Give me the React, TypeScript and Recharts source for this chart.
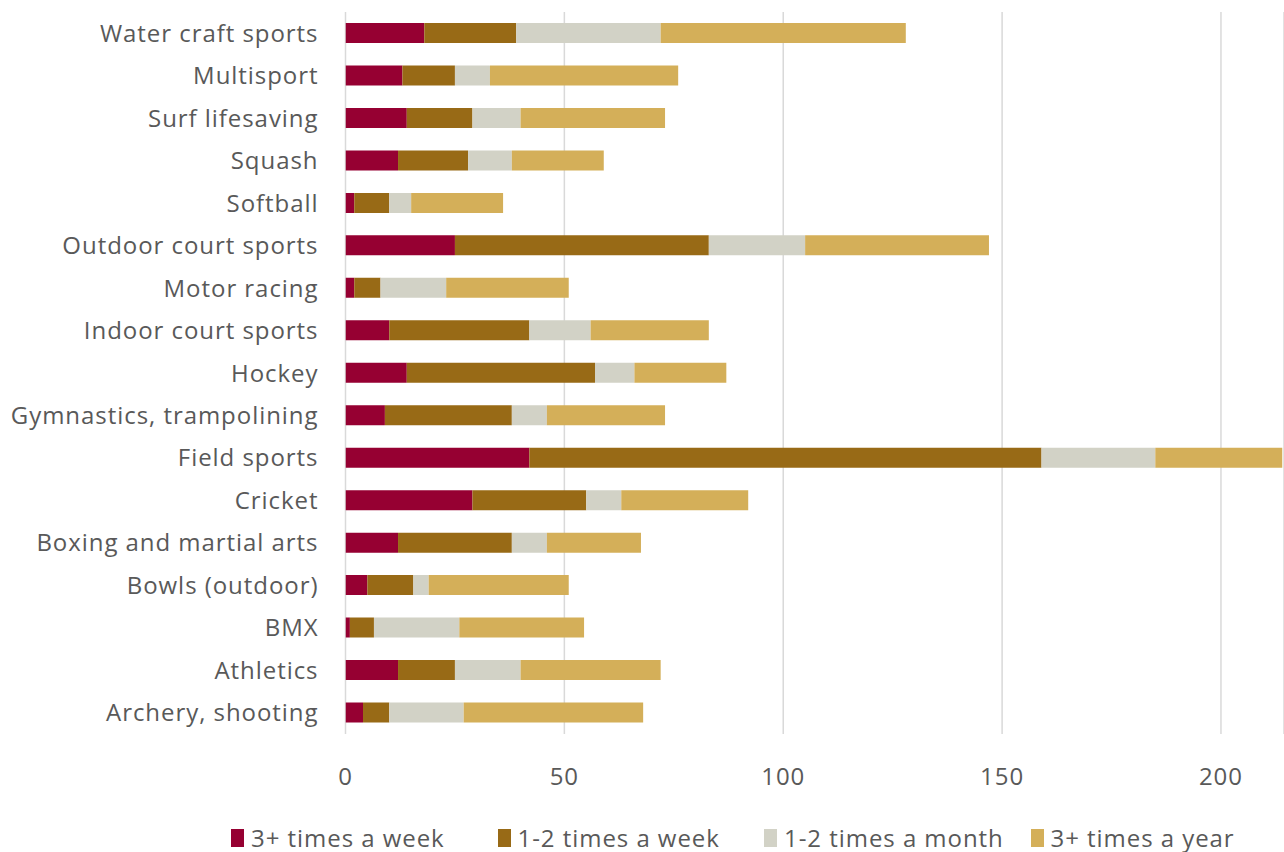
import { Bar, BarChart, CartesianGrid, Legend, XAxis, YAxis } from "recharts";

const SPORTS = [
  "Water craft sports",
  "Multisport",
  "Surf lifesaving",
  "Squash",
  "Softball",
  "Outdoor court sports",
  "Motor racing",
  "Indoor court sports",
  "Hockey",
  "Gymnastics, trampolining",
  "Field sports",
  "Cricket",
  "Boxing and martial arts",
  "Bowls (outdoor)",
  "BMX",
  "Athletics",
  "Archery, shooting",
];

const WEEK_3PLUS = [18, 13, 14, 12, 2, 25, 2, 10, 14, 9, 42, 29, 12, 5, 1, 12, 4];
const WEEK_1TO2 = [21, 12, 15, 16, 8, 58, 6, 32, 43, 29, 117, 26, 26, 10.5, 5.5, 13, 6];
const MONTH_1TO2 = [33, 8, 11, 10, 5, 22, 15, 14, 9, 8, 26, 8, 8, 3.5, 19.5, 15, 17];
const YEAR_3PLUS = [56, 43, 33, 21, 21, 42, 28, 27, 21, 27, 29, 29, 21.5, 32, 28.5, 32, 41];

const X_TICKS = [0, 50, 100, 150, 200];

const SERIES = [
  { key: "week3", name: "3+ times a week", color: "#960032" },
  { key: "week12", name: "1-2 times a week", color: "#986a16" },
  { key: "month12", name: "1-2 times a month", color: "#d2d2c6" },
  { key: "year3", name: "3+ times a year", color: "#d4af59" },
];

const data = SPORTS.map((sport, i) => ({
  sport,
  week3: WEEK_3PLUS[i],
  week12: WEEK_1TO2[i],
  month12: MONTH_1TO2[i],
  year3: YEAR_3PLUS[i],
}));

const FONT = "'Open Sans', sans-serif";
const TEXT = "#595959";
const TEXT_STYLE = {
  fill: TEXT,
  fontSize: 24,
  fontFamily: FONT,
  letterSpacing: 0.95,
};

function LegendRow() {
  return (
    <div
      style={{
        display: "flex",
        fontFamily: FONT,
        fontSize: 24,
        letterSpacing: 0.95,
        color: TEXT,
        paddingLeft: 231,
        marginTop: 19,
        lineHeight: "30px",
      }}
    >
      {SERIES.map((s, i) => (
        <div
          key={s.key}
          style={{
            display: "flex",
            alignItems: "center",
            width: i < SERIES.length - 1 ? 266.5 : "auto",
            whiteSpace: "nowrap",
          }}
        >
          <span
            style={{
              display: "inline-block",
              width: 13,
              height: 18,
              background: s.color,
              marginRight: 7,
            }}
          />
          {s.name}
        </div>
      ))}
    </div>
  );
}

export default function App() {
  return (
    <div style={{ position: "absolute", left: 0, top: 0, background: "#fff" }}>
      <BarChart
        width={1284}
        height={852}
        data={data}
        layout="vertical"
        barSize={20}
        margin={{ top: 12, right: 0, left: 0, bottom: 0 }}
      >
        <CartesianGrid
          horizontal={false}
          stroke="#d9d9d9"
          strokeWidth={1.5}
        />
        <XAxis
          type="number"
          domain={[0, 214.4]}
          ticks={X_TICKS}
          allowDataOverflow
          axisLine={false}
          tickLine={false}
          tickSize={0}
          tickMargin={34}
          height={70}
          tick={TEXT_STYLE}
        />
        <YAxis
          type="category"
          dataKey="sport"
          width={345.5}
          axisLine={false}
          tickLine={false}
          tickSize={0}
          tickMargin={27}
          interval={0}
          tick={TEXT_STYLE}
        />
        <Legend
          verticalAlign="bottom"
          height={48}
          content={() => <LegendRow />}
        />
        {SERIES.map((s) => (
          <Bar
            key={s.key}
            dataKey={s.key}
            name={s.name}
            stackId="a"
            fill={s.color}
            isAnimationActive={false}
          />
        ))}
      </BarChart>
    </div>
  );
}
